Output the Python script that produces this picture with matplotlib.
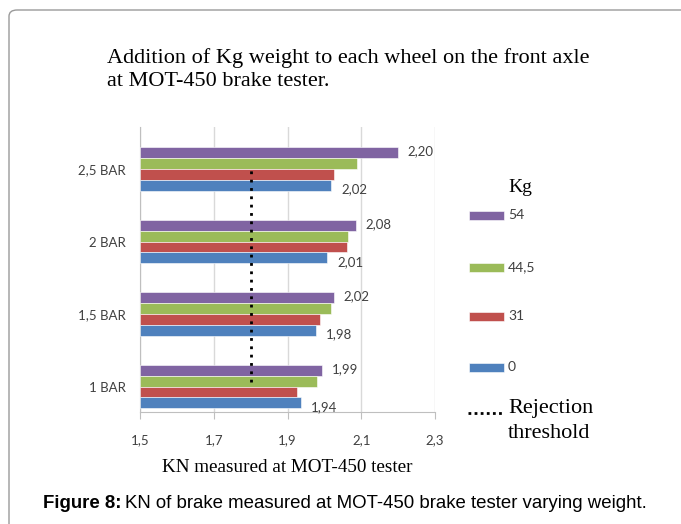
import matplotlib
matplotlib.use("Agg")
import matplotlib.pyplot as plt
from matplotlib.patches import FancyBboxPatch, Rectangle
from matplotlib.lines import Line2D

# data
categories = ["1 BAR", "1,5 BAR", "2 BAR", "2,5 BAR"]
weights = ["54", "44,5", "31", "0"]          # top bar to bottom bar in each group
kn_54 = [1.993, 2.026, 2.085, 2.20]
kn_445 = [1.980, 2.018, 2.064, 2.088]
kn_31 = [1.925, 1.988, 2.060, 2.025]
kn_0 = [1.937, 1.977, 2.008, 2.019]
label_54 = ["1,99", "2,02", "2,08", "2,20"]
label_0 = ["1,94", "1,98", "2,01", "2,02"]
threshold = 1.8
x_ticks = [1.5, 1.7, 1.9, 2.1, 2.3]
x_ticklabels = ["1,5", "1,7", "1,9", "2,1", "2,3"]

colors = ["#8064A2", "#9BBB59", "#C0504D", "#4F81BD"]
W, H = 681, 524

fig = plt.figure(figsize=(W / 100, H / 100), dpi=100)

def fx(px):
    return px / W

def fy(py):
    return 1 - py / H

# outer rounded frame (cut by the right and bottom edges)
frame = FancyBboxPatch((fx(9), fy(560)), fx(720), fy(10) - fy(560),
                       boxstyle="round,pad=0,rounding_size=0.012",
                       transform=fig.transFigure, fill=False,
                       edgecolor="#9a9a9a", linewidth=1.0)
fig.patches.append(frame)

ax = fig.add_axes([fx(140), fy(412), fx(435) - fx(140), fy(127) - fy(412)])

bh = 0.15
series = [kn_54, kn_445, kn_31, kn_0]
offsets = [1.5 * bh, 0.5 * bh, -0.5 * bh, -1.5 * bh]
for vals, off, c in zip(series, offsets, colors):
    ypos = [i + off for i in range(len(categories))]
    ax.barh(ypos, [v - 1.5 for v in vals], left=1.5, height=bh, color=c,
            edgecolor="white", linewidth=0.4, zorder=3)

lab_font = dict(family="Lato", fontsize=9.5, color="#404040")
for i in range(len(categories)):
    ax.annotate(label_54[i], (kn_54[i], i + 1.5 * bh), xytext=(7, 1),
                textcoords="offset points", va="center", ha="left", **lab_font)
    ax.annotate(label_0[i], (kn_0[i], i - 1.5 * bh), xytext=(7, -3),
                textcoords="offset points", va="center", ha="left", **lab_font)

ax.vlines(threshold, 0.065, 3.04, colors="black", linestyles=(0, (1, 2)),
          linewidth=2, zorder=4)

ax.set_xlim(1.5, 2.3)
ax.set_ylim(-0.35, 3.58)
ax.set_xticks(x_ticks)
ax.set_xticklabels(x_ticklabels)
ax.set_yticks(range(len(categories)))
ax.set_yticklabels(categories)
ax.grid(axis="x", color="#D9D9D9", linewidth=1, zorder=0)
for s in ["top", "right"]:
    ax.spines[s].set_visible(False)
ax.spines["left"].set_color("#BFBFBF")
ax.spines["bottom"].set_color("#BFBFBF")
ax.tick_params(axis="x", colors="#BFBFBF", length=5, labelcolor="#404040",
               labelsize=9.5, pad=11)
ax.tick_params(axis="y", length=0, labelcolor="#404040", labelsize=9.5, pad=10)
for t in ax.get_xticklabels() + ax.get_yticklabels():
    t.set_family("Lato")

ax.set_xlabel("KN measured at MOT-450 tester", family="Liberation Serif",
              fontsize=13.8, labelpad=9)

# title
fig.text(fx(107), fy(58), "Addition of Kg weight to each wheel on the front axle",
         family="Liberation Serif", fontsize=16, va="center", ha="left")
fig.text(fx(107), fy(81), "at MOT-450 brake tester.",
         family="Liberation Serif", fontsize=16, va="center", ha="left")

# legend
fig.text(fx(508), fy(187), "Kg", family="Liberation Serif", fontsize=14,
         va="center", ha="left")
leg_y = [215, 267, 316, 367]
for lbl, c, yy in zip(weights, colors, leg_y):
    fig.patches.append(Rectangle((fx(469), fy(yy + 4.5)), fx(35), fy(yy - 4.5) - fy(yy + 4.5),
                                 transform=fig.transFigure, facecolor=c,
                                 edgecolor="white", linewidth=0.4))
    fig.text(fx(508), fy(yy), lbl, family="Lato", fontsize=10, color="#404040",
             va="center", ha="left")
fig.lines.append(Line2D([fx(468), fx(503)], [fy(413), fy(413)], transform=fig.transFigure,
                        color="black", linestyle=(0, (1, 1.2)), linewidth=2))
fig.text(fx(508), fy(409), "Rejection", family="Liberation Serif", fontsize=16,
         va="center", ha="left")
fig.text(fx(508), fy(433), "threshold", family="Liberation Serif", fontsize=16,
         va="center", ha="left")

# caption: bold part then plain part
cap_b = fig.text(fx(43), fy(503), "Figure 8:", family="Liberation Sans", weight="bold",
                 fontsize=13.4, va="center", ha="left")
fig.canvas.draw()
bb = cap_b.get_window_extent()
fig.text(bb.x1 / W + fx(4), fy(503), "KN of brake measured at MOT-450 brake tester varying weight.",
         family="Liberation Sans", fontsize=13.4, va="center", ha="left")

fig.savefig("out.png", dpi=100)
